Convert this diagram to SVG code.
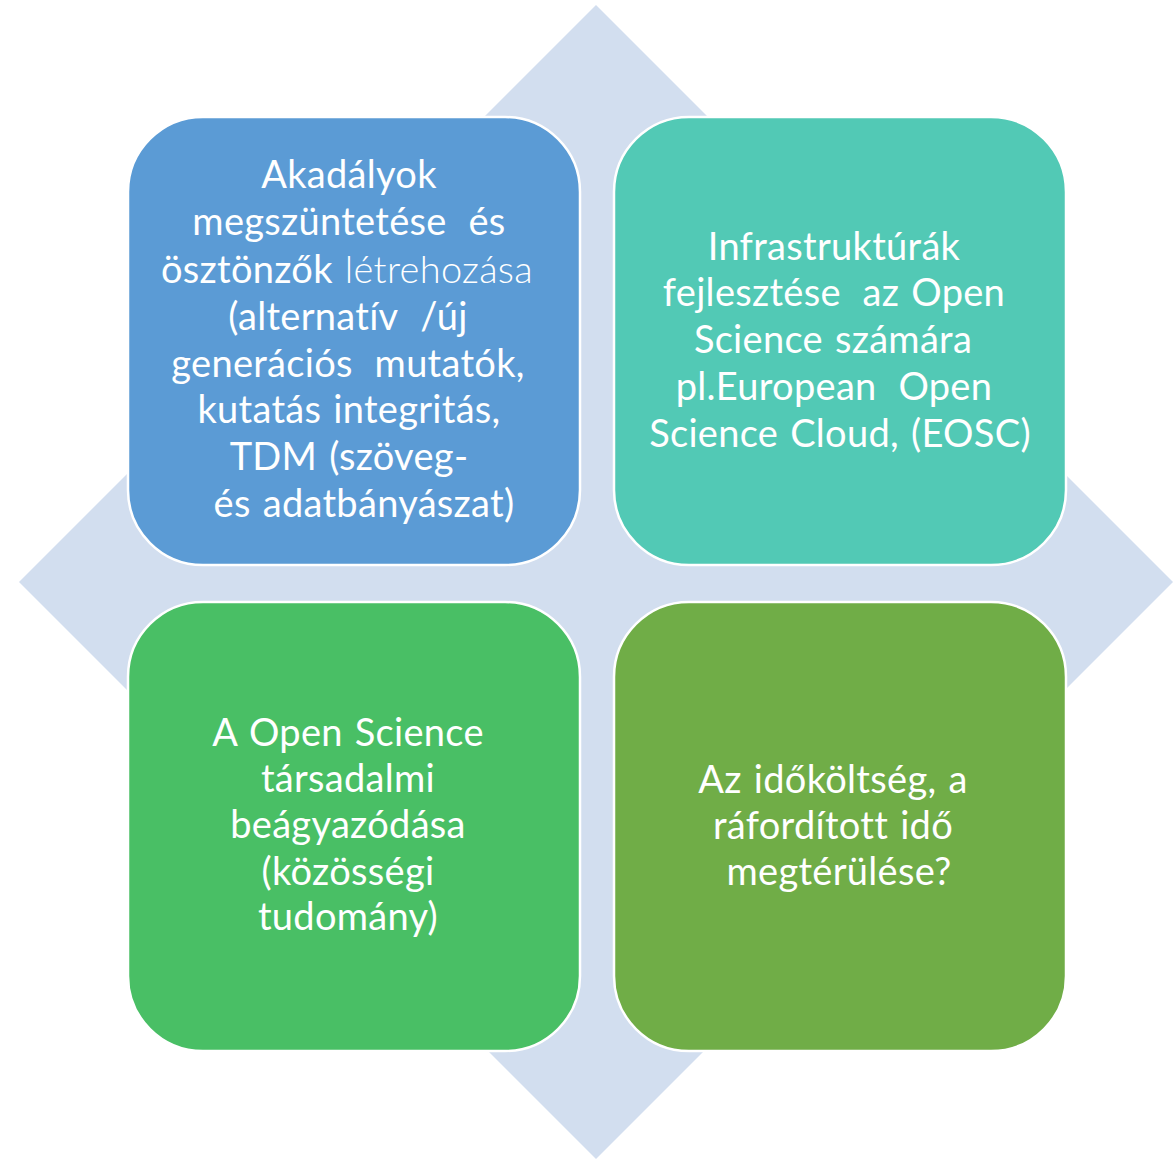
<svg xmlns="http://www.w3.org/2000/svg" width="1173" height="1159" viewBox="0 0 1173 1159">
<style>
.box{stroke:#fff;stroke-width:2.5}
.t{font-family:Lato,"Open Sans","Liberation Sans",sans-serif;font-size:38px;letter-spacing:0.3px;word-spacing:2px;fill:#fff;text-anchor:middle}
.lt{font-weight:300}
</style>
<rect width="1173" height="1159" fill="#fff"/>
<g id="background">
<polygon points="596,5 1173,582 596,1159 19,582" fill="#D2DEEF"/>
</g>
<g id="node-tl">
<rect class="box" x="128" y="117" width="452" height="448" rx="75" ry="75" fill="#5B9BD5"/>
<text class="t">
<tspan x="355" y="188">Akadályok</tspan>
<tspan x="355" y="235">megszüntetése&#8197; és</tspan>
<tspan x="353" y="283">ösztönzők <tspan class="lt">létrehozása</tspan></tspan>
<tspan x="354" y="330">(alternatív&#8197; /új</tspan>
<tspan x="354" y="377">generációs&#8197; mutatók,</tspan>
<tspan x="355" y="423">kutatás integritás,</tspan>
<tspan x="355" y="470">TDM (szöveg-</tspan>
<tspan x="364" y="517">és adatbányászat)</tspan>
</text>
</g>
<g id="node-tr">
<rect class="box" x="614" y="117" width="452" height="448" rx="75" ry="75" fill="#52C9B5"/>
<text class="t">
<tspan x="840" y="260">Infrastruktúrák</tspan>
<tspan x="840" y="306">fejlesztése&#8197; az Open</tspan>
<tspan x="839" y="353">Science számára</tspan>
<tspan x="840" y="400">pl.European&#8197; Open</tspan>
<tspan x="840" y="447">Science Cloud, (EOSC)</tspan>
</text>
</g>
<g id="node-bl">
<rect class="box" x="128" y="602" width="452" height="449" rx="75" ry="75" fill="#49BF65"/>
<text class="t">
<tspan x="354" y="746">A Open Science</tspan>
<tspan x="354" y="792">társadalmi</tspan>
<tspan x="354" y="838">beágyazódása</tspan>
<tspan x="354" y="885">(közösségi</tspan>
<tspan x="348" y="930">tudomány)</tspan>
</text>
</g>
<g id="node-br">
<rect class="box" x="614" y="602" width="452" height="449" rx="75" ry="75" fill="#70AD47"/>
<text class="t">
<tspan x="839" y="793">Az időköltség, a</tspan>
<tspan x="839" y="839">ráfordított idő</tspan>
<tspan x="839" y="885">megtérülése?</tspan>
</text>
</g>
<g id="connectors"></g>
</svg>
